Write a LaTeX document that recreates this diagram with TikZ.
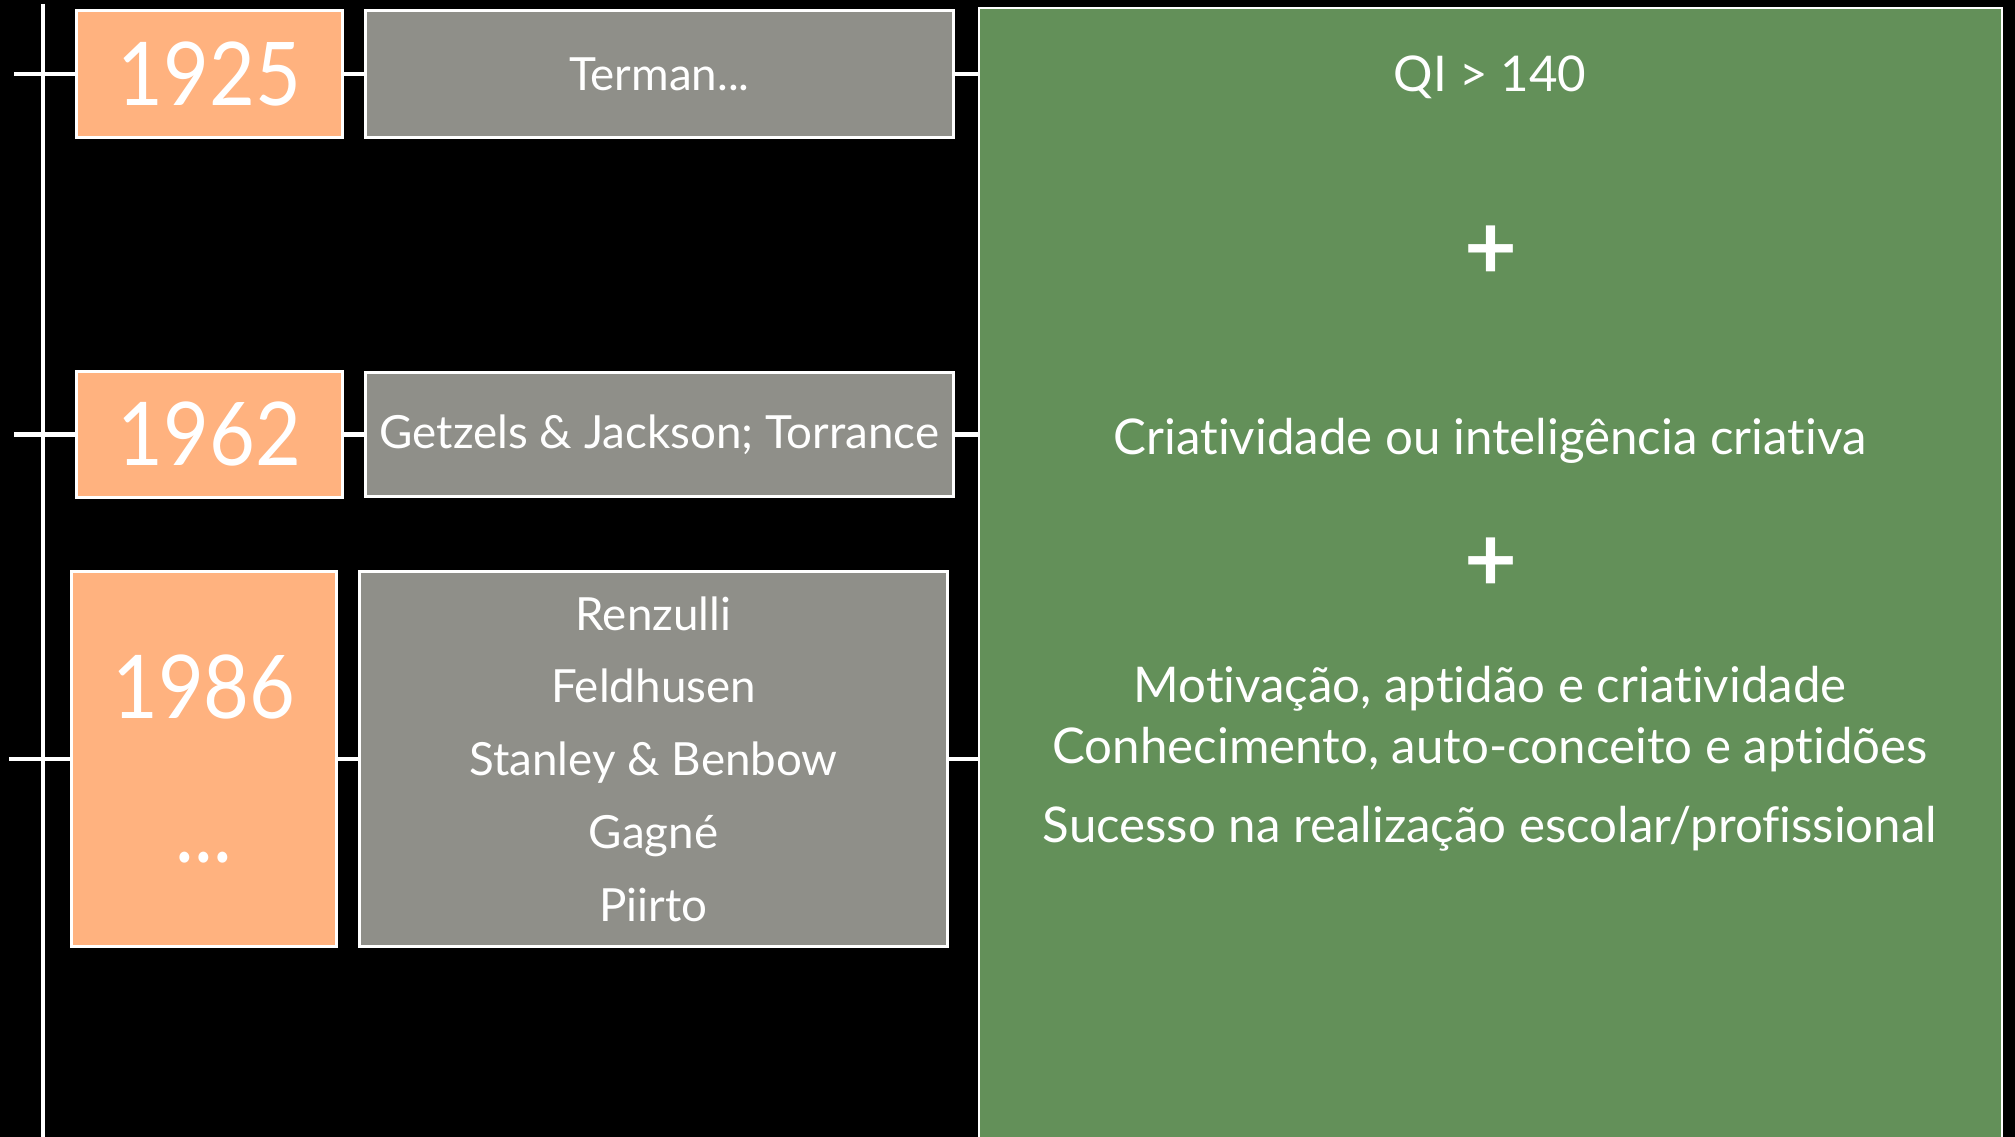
\documentclass[tikz,border=0pt]{standalone}
\usepackage{fontspec}
\setmainfont[Ligatures=NoCommon]{Lato}
\newfontfamily\yearfont[FakeStretch=0.9]{Lato}
\usepackage{tikz}
\usepackage{xcolor}
\definecolor{peach}{RGB}{255,178,127}
\definecolor{stone}{RGB}{143,143,137}
\definecolor{leaf}{RGB}{99,144,89}

\begin{document}
\begin{tikzpicture}[x=0.01cm,y=-0.01cm,
		box/.style={draw=white,line width=0.85pt,inner sep=0pt,outer sep=0pt,text=white},
		yearbox/.style={box,fill=peach,minimum width=2.65cm,font=\yearfont\fontsize{25}{30}\selectfont},
		namebox/.style={box,fill=stone,minimum width=5.87cm,align=center,font=\fontsize{13}{20.7}\selectfont},
		link/.style={white,line width=1.15pt}]
		\useasboundingbox (0,0) rectangle (2015,1137);
		\fill[black] (0,0) rectangle (2015,1137);
		% timeline
		\coordinate (top) at (43,4);
		\coordinate (bot) at (43,1137);
		\draw[link] (top) -- (bot);
		% years and names
		\node[yearbox,minimum height=1.26cm] (y1) at (209.5,74) {1925};
		\node[yearbox,minimum height=1.25cm] (y2) at (209.5,434.5) {1962};
		\node[yearbox,minimum width=2.64cm,minimum height=3.74cm,align=center] (y3) at (204,759) {1986\\[11pt]...};
		\node[namebox,minimum height=1.26cm] (g1) at (659.5,74) {Terman...};
		\node[namebox,minimum height=1.23cm] (g2) at (659.5,434.5) {Getzels \& Jackson; Torrance};
		\node[namebox,minimum height=3.74cm] (g3) at (653.5,759) {Renzulli\\Feldhusen\\Stanley \& Benbow\\Gagné\\Piirto};
		\node[box,fill=leaf,line width=0.6pt,minimum width=10.23cm,minimum height=12cm] (res) at (1490.5,608) {};
		% ticks and links
		\foreach \i/\x in {1/14,2/14,3/9} {
			\coordinate (t\i) at (\x,0 |- y\i.west);
			\draw[link] (t\i) -- (y\i.west);
			\draw[link] (y\i.east) -- (g\i.west);
			\draw[link] (g\i.east) -- (g\i.east -| res.west);
		}
		% contents of the green box
		\foreach \y/\t [count=\i] in {92/QI > 140,455/Criatividade ou inteligência criativa,703/{Motivação, aptidão e criatividade},764/{Conhecimento, auto-conceito e aptidões},843/{Sucesso na realização escolar/profissional}}
			\node[text=white,anchor=base,font=\fontsize{14}{17}\selectfont] (c\i) at (1490,\y) {\t};
		\foreach \y [count=\i] in {253,565} \node[text=white,font=\bfseries\fontsize{26}{30}\selectfont] (p\i) at (1491,\y) {+};
	\end{tikzpicture}
\end{document}
